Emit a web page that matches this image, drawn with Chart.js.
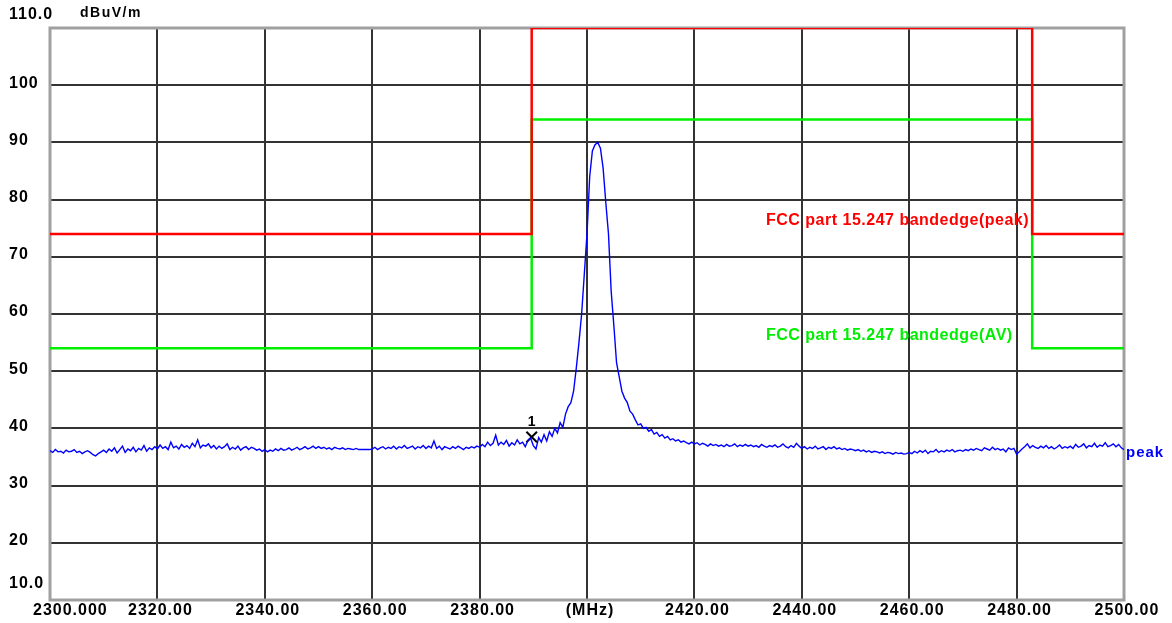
<!DOCTYPE html>
<html>
<head>
<meta charset="utf-8">
<script src="https://cdn.jsdelivr.net/npm/chart.js@4.4.0/dist/chart.umd.min.js"></script>
<style>
  html, body { margin: 0; padding: 0; background: #fff; }
  #wrap { width: 1172px; height: 623px; }
</style>
</head>
<body>
<div id="wrap"><canvas id="myChart" width="1172" height="623"></canvas></div>
<script>
// sweep: 2300 MHz start, 0.5 MHz per sample
const sweepStart = 2300;
const sweepStep = 0.5;
const traceLevels = [
  36.1, 35.8, 36.3, 35.9, 36.0, 35.7, 36.2, 35.9, 36.0, 36.3, 35.8, 36.0, 35.6, 35.9, 36.1, 35.8, 35.4, 35.2, 35.6, 35.9,
  36.2, 35.8, 36.4, 36.0, 36.6, 35.7, 36.3, 36.9, 35.8, 36.4, 36.1, 36.7, 35.9, 36.5, 36.2, 37.0, 36.0, 36.6, 36.3, 36.8,
  36.4, 37.1, 36.5, 36.8, 36.3, 37.6, 36.6, 36.9, 36.4, 37.2, 36.7, 37.0, 36.5, 37.4, 36.8, 38.0, 36.6, 37.1, 36.9, 37.3,
  36.6, 37.0, 36.4, 36.9, 36.5, 36.8, 37.3, 36.3, 36.7, 36.4, 36.9, 36.2, 36.6, 36.8, 36.3, 36.7, 36.5, 36.2, 36.4, 36.0,
  36.3, 35.9, 36.2, 36.0, 36.4, 36.1, 36.5, 36.2, 36.3, 36.6, 36.2, 36.4, 36.7, 36.3, 36.5, 36.8, 36.4, 36.6, 36.9, 36.5,
  36.8, 36.5, 36.7, 36.4, 36.6, 36.3, 36.7, 36.5, 36.4, 36.6, 36.3, 36.5, 36.4, 36.3, 36.5, 36.3, 36.3, 36.3, 36.3, 36.3,
  36.4, 36.7, 36.3, 36.6, 36.8, 36.4, 36.7, 36.5, 36.9, 36.4, 36.8, 36.6, 37.0, 36.5, 36.7, 36.9, 36.4, 36.8, 36.6, 37.0,
  36.5, 36.9, 36.6, 37.8, 36.5, 36.9, 36.3, 36.8, 36.6, 36.4, 36.8, 36.5, 36.9, 36.6, 36.3, 36.7, 36.5, 36.8, 36.6, 36.9,
  36.7, 37.2, 36.8, 37.6, 37.0, 37.4, 38.8, 37.1, 37.6, 37.2, 37.9, 36.9, 37.5, 37.1, 38.0, 37.3, 37.6, 36.8, 37.9, 38.3,
  37.0, 36.4, 38.4, 37.6, 38.9, 37.8, 39.4, 38.6, 40.0, 39.2, 41.0, 40.2, 42.5, 43.8, 44.5, 46.5, 50.5, 55.0, 60.0, 67.0,
  74.0, 84.0, 88.5, 89.6, 90.0, 89.0, 85.5, 79.5, 74.0, 64.0, 58.0, 51.5, 49.0, 46.5, 45.3, 44.5, 43.0, 42.5, 41.5, 40.6,
  40.8, 40.0, 40.2, 39.5, 39.8, 39.0, 39.3, 38.6, 38.9, 38.3, 38.6, 38.0, 38.2, 37.8, 38.0, 37.6, 37.8, 37.5, 37.3, 37.6,
  37.3, 37.5, 37.1, 37.4, 37.2, 36.9, 37.3, 37.0, 37.2, 36.9, 37.1, 36.8, 37.2, 36.9, 37.0, 37.3, 36.8, 37.1, 36.9, 37.2,
  36.9, 37.1, 36.8, 37.0, 36.7, 37.2, 36.9, 36.7, 37.0, 36.8, 37.1, 36.7, 36.9, 37.3, 36.8, 36.6, 37.0, 36.7, 37.4, 36.9,
  36.5, 36.8, 36.4, 36.7, 36.5, 36.9, 36.4, 36.6, 36.8, 36.3, 36.7, 36.5, 36.8, 36.4, 36.6, 36.3, 36.5, 36.2, 36.4, 36.3,
  36.1, 36.3, 36.0, 36.2, 35.9, 36.1, 35.8, 36.0, 35.9, 35.7, 35.9, 35.6, 35.8, 35.7, 35.5, 35.8, 35.6, 35.7, 35.5, 35.6,
  35.8, 35.6, 36.0, 35.7, 36.1, 35.8, 36.2, 35.6, 36.0, 35.9, 36.3, 35.8, 36.1, 35.9, 36.2, 36.0, 36.3, 35.9, 36.1, 36.2,
  36.0, 36.3, 36.1, 36.4, 36.2, 36.5, 36.3, 36.1, 36.6, 36.4, 36.2, 36.7, 36.3, 36.5, 36.2, 36.4, 35.9, 36.6, 36.3, 36.5,
  35.5, 35.9, 36.4, 36.8, 37.3, 36.6, 37.0, 36.7, 36.5, 36.9, 36.6, 37.0, 36.5, 36.8, 36.4, 36.7, 37.1, 36.5, 36.8, 36.6,
  36.9, 36.5, 37.2, 36.7, 36.9, 37.3, 36.6, 37.0, 36.8, 37.4, 36.7, 37.1, 36.9, 37.5, 36.8, 37.0, 37.3, 36.8, 37.2, 36.6,
  36.3
];

// limit lines (FCC part 15.247 band edge)
const peakLimitFreq = [2300, 2389.7, 2389.7, 2482.9, 2482.9, 2500];
const peakLimitLevel = [74, 74, 110, 110, 74, 74];
const avLimitFreq = [2300, 2389.7, 2389.7, 2482.9, 2482.9, 2500];
const avLimitLevel = [54, 54, 94, 94, 54, 54];
const peakLimitLabel = 'FCC part 15.247 bandedge(peak)';
const avLimitLabel = 'FCC part 15.247 bandedge(AV)';

// marker 1
const markerFreq = [2389.7];
const markerLevel = [38.5];
const markerNames = ['1'];

// axis ticks
const xTicks = [2300, 2320, 2340, 2360, 2380, 2400, 2420, 2440, 2460, 2480, 2500];
const xTickLabels = ['2300.000', '2320.00', '2340.00', '2360.00', '2380.00', '(MHz)', '2420.00', '2440.00', '2460.00', '2480.00', '2500.00'];
const yTicks = [110, 100, 90, 80, 70, 60, 50, 40, 30, 20, 10];
const yTickLabels = ['110.0', '100', '90', '80', '70', '60', '50', '40', '30', '20', '10.0'];
const yUnit = 'dBuV/m';
const traceName = 'peak';

const tracePoints = traceLevels.map((v, i) => ({ x: sweepStart + i * sweepStep, y: v }));
const toPoints = (xs, ys) => xs.map((x, i) => ({ x: x, y: ys[i] }));

const FONT = '"Liberation Sans", Arial, sans-serif';

const analyzerDecor = {
  id: 'analyzerDecor',
  beforeDatasetsDraw(chart) {
    const ctx = chart.ctx;
    const a = chart.chartArea;
    const ys = chart.scales.y;
    ctx.save();
    // frame
    ctx.strokeStyle = '#a0a0a0';
    ctx.lineWidth = 3;
    ctx.strokeRect(a.left, a.top, a.right - a.left, a.bottom - a.top);
    // limit texts (under the lines)
    ctx.font = 'bold 16px ' + FONT;
    ctx.letterSpacing = '0.5px';
    ctx.textBaseline = 'middle';
    ctx.textAlign = 'left';
    ctx.fillStyle = '#ff0000';
    ctx.fillText(peakLimitLabel, 766, ys.getPixelForValue(peakLimitLevel[0]) - 13);
    ctx.fillStyle = '#00ee00';
    ctx.fillText(avLimitLabel, 766, ys.getPixelForValue(avLimitLevel[0]) - 13);
    ctx.restore();
  },
  afterDraw(chart) {
    const ctx = chart.ctx;
    const a = chart.chartArea;
    const xs = chart.scales.x;
    const ys = chart.scales.y;
    ctx.save();
    ctx.fillStyle = '#000';
    ctx.font = 'bold 16px ' + FONT;
    ctx.letterSpacing = '1px';
    ctx.textBaseline = 'middle';
    // x tick labels
    xTicks.forEach((t, i) => {
      const px = xs.getPixelForValue(t);
      if (i === 0) {
        ctx.textAlign = 'left';
        ctx.fillText(xTickLabels[i], px - 17, a.bottom + 11);
      } else {
        ctx.textAlign = 'center';
        ctx.fillText(xTickLabels[i], px + 3, a.bottom + 11);
      }
    });
    // y tick labels, left aligned
    ctx.textAlign = 'left';
    yTicks.forEach((t, i) => {
      let py = ys.getPixelForValue(t) - 2;
      if (i === 0) py = 15;
      if (i === yTicks.length - 1) py = a.bottom - 16;
      ctx.fillText(yTickLabels[i], 9, py);
    });
    // unit
    ctx.font = 'bold 14px ' + FONT;
    ctx.letterSpacing = '1.5px';
    ctx.fillText(yUnit, 80, 13);
    // marker name
    ctx.font = 'bold 14px ' + FONT;
    ctx.letterSpacing = '0px';
    ctx.textAlign = 'center';
    markerFreq.forEach((f, i) => {
      ctx.fillText(markerNames[i], xs.getPixelForValue(f), ys.getPixelForValue(markerLevel[i]) - 15);
    });
    // trace name
    ctx.fillStyle = '#0000ff';
    ctx.font = 'bold 15px ' + FONT;
    ctx.letterSpacing = '1px';
    ctx.textAlign = 'left';
    const last = traceLevels[traceLevels.length - 1];
    ctx.fillText(traceName, a.right + 2, ys.getPixelForValue(last) + 3);
    ctx.restore();
  }
};

const ctx = document.getElementById('myChart').getContext('2d');
const myChart = new Chart(ctx, {
  type: 'line',
  data: {
    datasets: [
      {
        label: 'peak limit',
        data: toPoints(peakLimitFreq, peakLimitLevel),
        borderColor: '#ff0000',
        borderWidth: 2.5,
        pointRadius: 0,
        fill: false
      },
      {
        label: 'AV limit',
        data: toPoints(avLimitFreq, avLimitLevel),
        borderColor: '#00f000',
        borderWidth: 2.5,
        pointRadius: 0,
        fill: false
      },
      {
        label: 'trace',
        data: tracePoints,
        borderColor: '#0000ff',
        borderWidth: 1.4,
        pointRadius: 0,
        fill: false
      },
      {
        type: 'scatter',
        label: 'marker',
        data: toPoints(markerFreq, markerLevel),
        pointStyle: 'crossRot',
        pointRadius: 7.5,
        borderColor: '#000',
        borderWidth: 2,
        showLine: false
      }
    ]
  },
  options: {
    responsive: false,
    animation: false,
    devicePixelRatio: 1,
    layout: { padding: { left: 50, top: 28, right: 48, bottom: 23 } },
    plugins: {
      legend: { display: false },
      tooltip: { enabled: false }
    },
    scales: {
      x: {
        type: 'linear',
        min: 2300,
        max: 2500,
        ticks: { display: false, stepSize: 20 },
        grid: { color: '#333', lineWidth: 2, drawTicks: false },
        border: { display: false }
      },
      y: {
        min: 10,
        max: 110,
        ticks: { display: false, stepSize: 10 },
        grid: { color: '#333', lineWidth: 2, drawTicks: false },
        border: { display: false }
      }
    }
  },
  plugins: [analyzerDecor]
});
</script>
</body>
</html>
